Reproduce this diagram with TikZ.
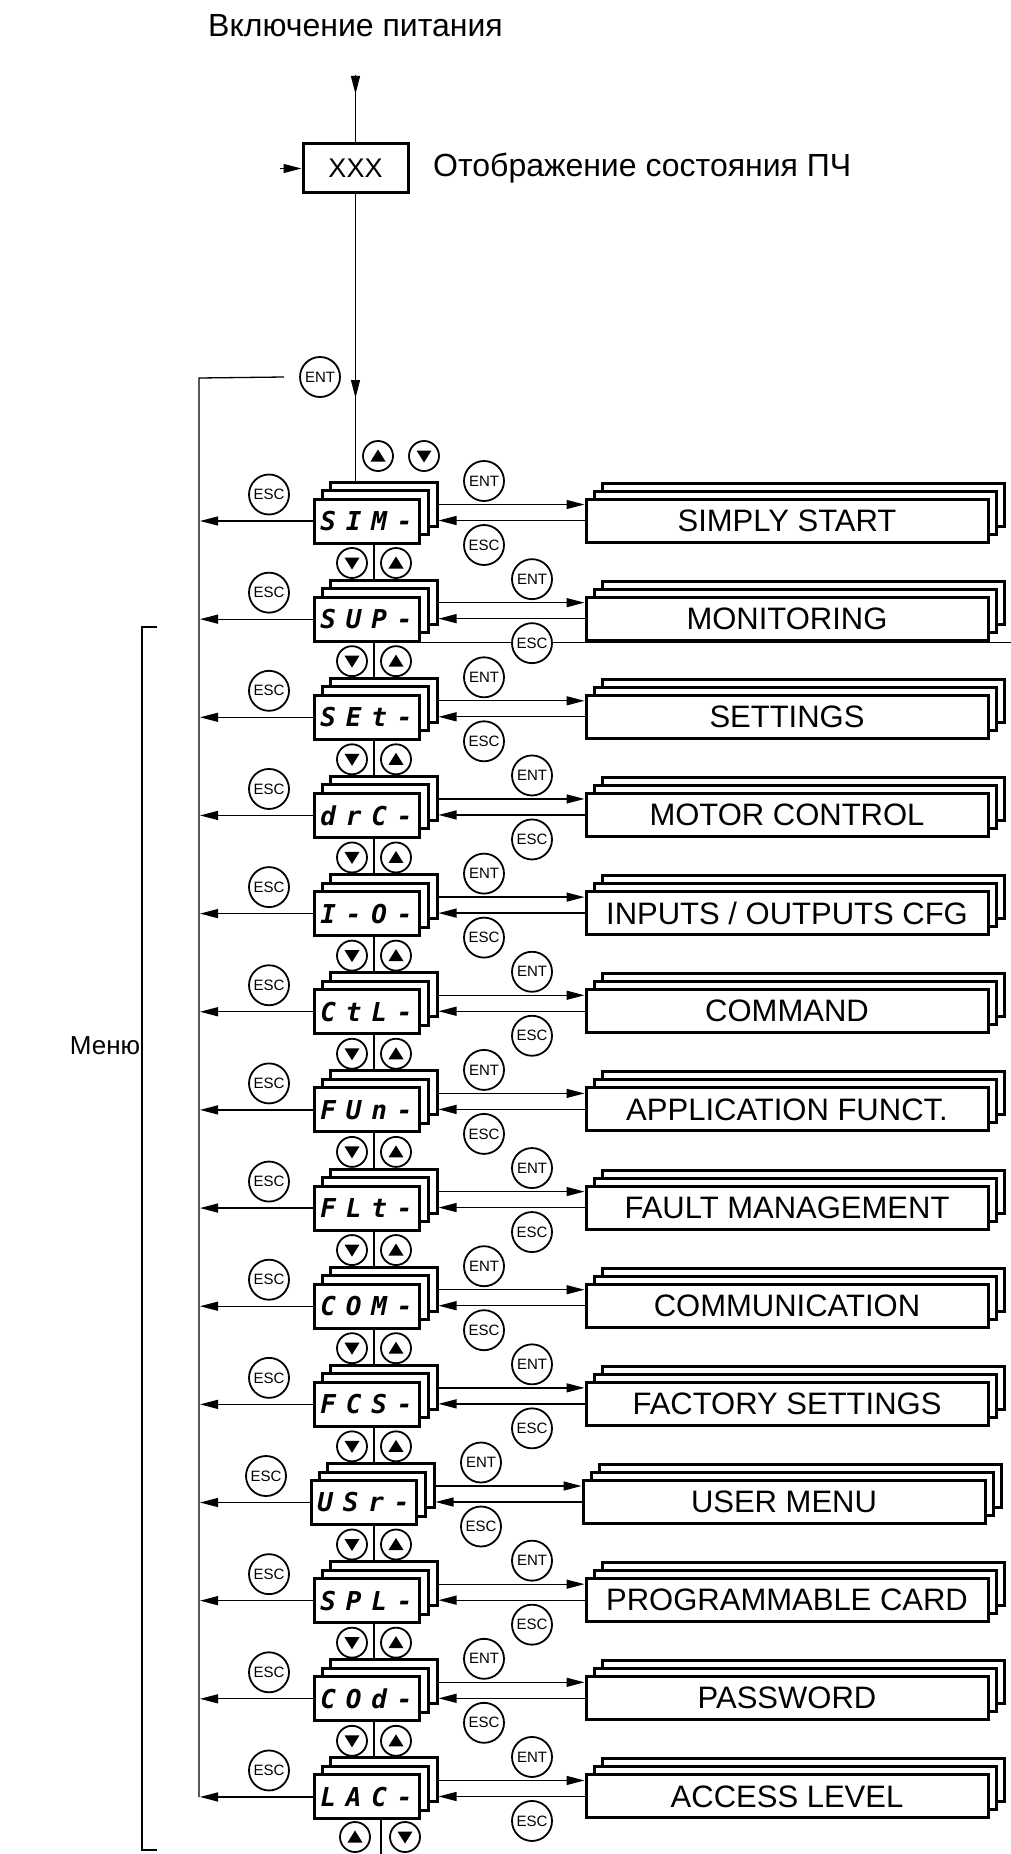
\documentclass[tikz,border=0pt]{standalone}
\usepackage{fontspec}
\setmainfont{Liberation Sans}
\newfontfamily\segfont{DejaVu Sans Mono}
\usetikzlibrary{arrows.meta,calc}

\newcommand\segsplit[4]{\makebox[25.5pt]{#1}\makebox[25.5pt]{#2}\makebox[25.5pt]{#3}\makebox[25.5pt]{#4}}
\newcommand\uptri[1]{\fill (#1.center) ++(0,-6.5) -- ++(7.5,12) -- ++(-15,0) -- cycle;}
\newcommand\dntri[1]{\fill (#1.center) ++(0,6.5) -- ++(7.5,-12) -- ++(-15,0) -- cycle;}

\begin{document}
\begin{tikzpicture}[x=1pt,y=-1pt,
  ln/.style={line width=1.3pt},
  arr/.style={ln,-{Triangle[length=18pt,width=9pt]}},
  panel/.style={draw,line width=3pt,fill=white},
  segbox/.style={panel,minimum width=105pt,minimum height=44pt,inner sep=0pt,
    font=\segfont\bfseries\itshape\fontsize{26}{26}\selectfont},
  menubox/.style={panel,minimum width=402pt,minimum height=43pt,inner sep=0pt,
    font=\fontsize{31}{31}\selectfont},
  kbtn/.style={draw,circle,line width=1.8pt,fill=white,minimum size=40pt,inner sep=0pt,
    font=\fontsize{15}{15}\selectfont},
  arrowbtn/.style={draw,circle,line width=1.8pt,fill=white,minimum size=30pt,inner sep=0pt},
  bigtext/.style={inner sep=0pt,font=\fontsize{32}{32}\selectfont},
]
\fill[white] (0,0) rectangle (1011,1854);
\useasboundingbox (0,0) rectangle (1011,1854);

% top part
\node[bigtext,anchor=west] (t1) at (208,26) {Включение питания};
\coordinate (pw) at (355.5,75);
\node[panel,minimum width=105pt,minimum height=49pt,inner sep=0pt,font=\fontsize{27}{27}\selectfont] (X) at (355.5,168.5) {XXX};
\draw[ln] (pw) -- (X.north);
\draw[arr] (pw) -- ++(0,19);
\coordinate (pl) at (280,168.5);
\draw[arr] (pl) -- (X.west);
\node[bigtext,anchor=west] (t2) at (433,168.5) {Отображение состояния ПЧ};

\coordinate (sinTop) at (355.5,482);
\draw[ln] (X.south) -- (sinTop);
\coordinate (ma) at (355.5,378);
\draw[arr] (ma) -- ++(0,20);

\coordinate (busTop) at (199,378);
\coordinate (busEnd) at (199,1797);
\node[kbtn] (entTop) at (320,377) {ENT};
\draw[ln] ([xshift=-15pt]entTop.west) -- (busTop) -- (busEnd);

\node[arrowbtn] (upA) at (378,456) {}; \uptri{upA}
\node[arrowbtn] (dnA) at (424,456) {}; \dntri{dnA}

\coordinate (edge) at (1011,0);

\foreach \i/\code/\lab/\dx in {
  0/SIM-/SIMPLY START/0,
  1/SUP-/MONITORING/0,
  2/SEt-/SETTINGS/0,
  3/drC-/MOTOR CONTROL/0,
  4/{I-O-}/{INPUTS / OUTPUTS CFG}/0,
  5/CtL-/COMMAND/0,
  6/FUn-/APPLICATION FUNCT./0,
  7/FLt-/FAULT MANAGEMENT/0,
  8/COM-/COMMUNICATION/0,
  9/FCS-/FACTORY SETTINGS/0,
  10/USr-/USER MENU/-3,
  11/SPL-/PROGRAMMABLE CARD/0,
  12/COd-/PASSWORD/0,
  13/LAC-/ACCESS LEVEL/0}{
  \pgfmathsetmacro\rowT{499+98.15*\i}
  \pgfmathsetmacro\kx{mod(\i,2)==0 ? 484 : 532}
  % left stack
  \draw[panel] (330+\dx,\rowT-17) rectangle (437+\dx,\rowT+27);
  \draw[panel] (322+\dx,\rowT-8.5) rectangle (428+\dx,\rowT+35.5);
  \node[segbox] (L\i) at (366.5+\dx,\rowT+22) {\expandafter\segsplit\code};
  % right stack
  \draw[panel] (602+\dx,\rowT-16) rectangle (1004+\dx,\rowT+27);
  \draw[panel] (594+\dx,\rowT-8) rectangle (996+\dx,\rowT+35);
  \node[menubox] (R\i) at (787+\dx,\rowT+21.5) {\lab};
  % connectors
  \coordinate (Lb\i) at (438.5+\dx,\rowT+5.5);
  \draw[arr] (Lb\i) -- (Lb\i -| R\i.west);
  \draw[arr] (R\i.west) -- (R\i.west -| Lb\i);
  \draw[arr] (L\i.west) -- ([xshift=1pt]L\i.west -| busTop);
  \ifnum\i=1
    \draw[ln] (L\i.south east) -- (L\i.south east -| edge);
  \fi
  \ifnum\i<13
    \draw[ln] (374,\rowT+44) -- (374,\rowT+81.15);
    \node[arrowbtn] (dn\i) at (352,\rowT+64) {}; \dntri{dn\i}
    \node[arrowbtn] (up\i) at (396,\rowT+64) {}; \uptri{up\i}
  \fi
  % keys
  \node[kbtn] (ent\i) at (\kx+\dx,\rowT-18) {ENT};
  \node[kbtn] (escr\i) at (\kx+\dx,\rowT+46) {ESC};
  \node[kbtn] (escl\i) at (269+\dx,\rowT-4.5) {ESC};
}

% bottom buttons
\draw[ln] (381,1819) -- (381,1854);
\node[arrowbtn] (upZ) at (355,1837) {}; \uptri{upZ}
\node[arrowbtn] (dnZ) at (405,1837) {}; \dntri{dnZ}

% bracket and label
\draw[ln] (157,627) -- (142,627) -- (142,1850) -- (157,1850);
\node[inner sep=0pt,font=\fontsize{26}{26}\selectfont] (menu) at (105,1046) {Меню};
\end{tikzpicture}
\end{document}
